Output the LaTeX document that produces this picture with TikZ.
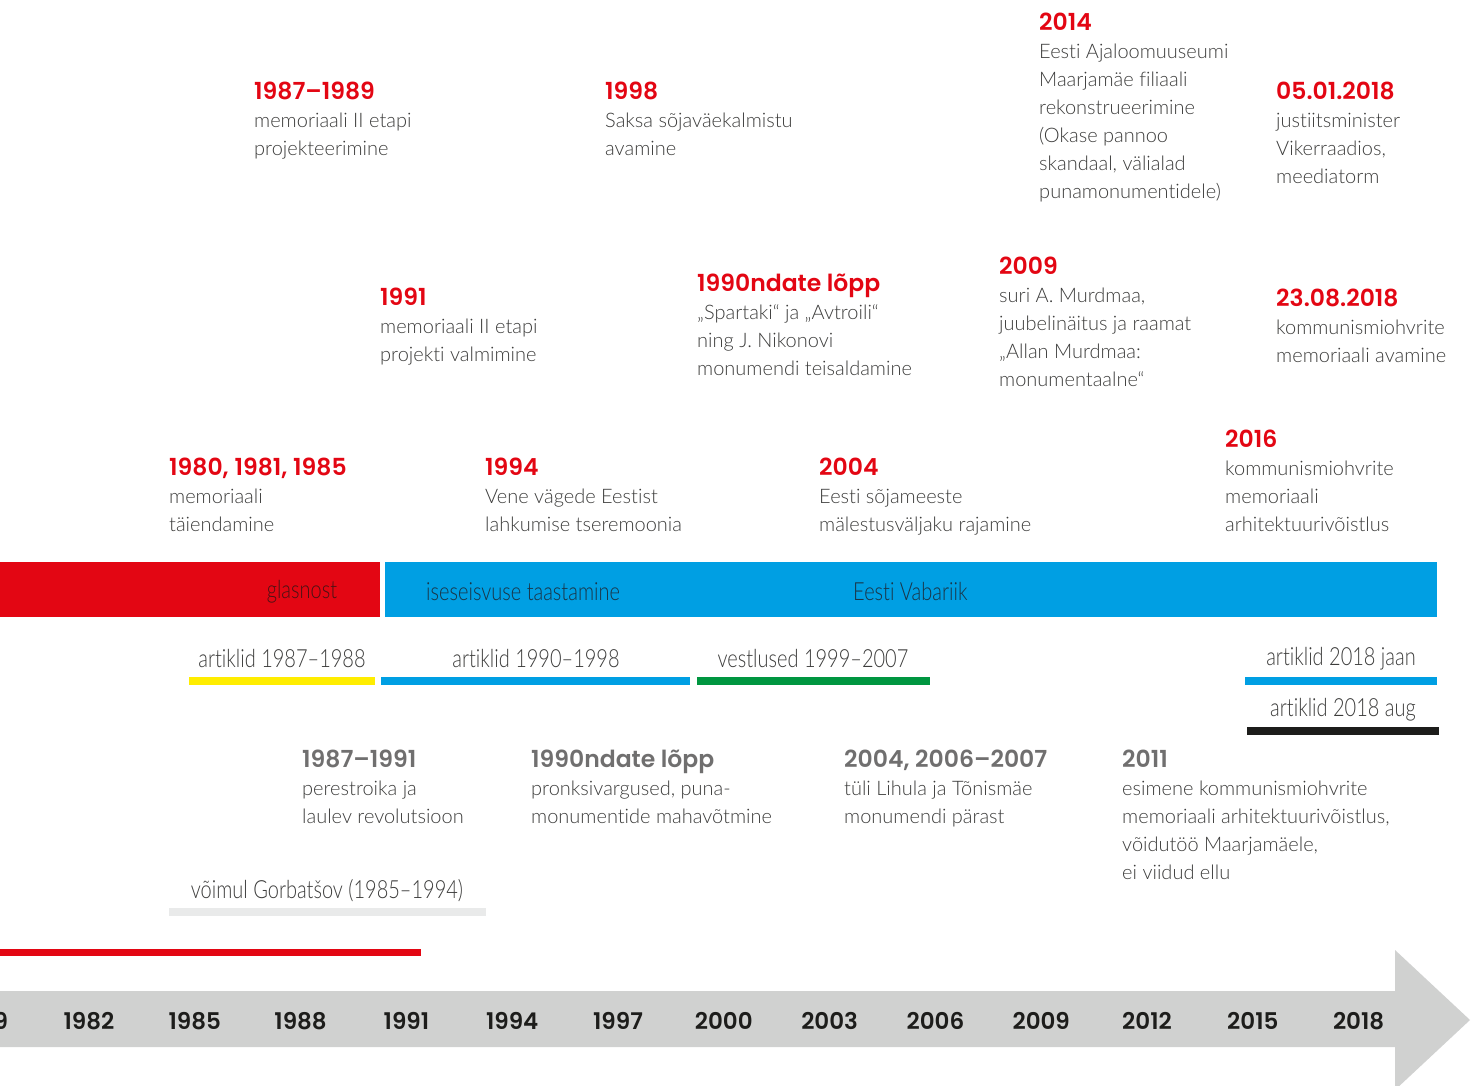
\documentclass[tikz,border=0pt]{standalone}
\usepackage{fontspec}
\setmainfont{Lato Light}[Ligatures=NoCommon]
\newfontfamily\headfont{Poppins SemiBold}[Ligatures=NoCommon]
\newfontfamily\condfont{Lato Light}[FakeStretch=0.8,Ligatures=NoCommon]
\usetikzlibrary{positioning}
\definecolor{cred}{HTML}{E30613}
\definecolor{cblue}{HTML}{009FE3}
\definecolor{cyellow}{HTML}{FFED00}
\definecolor{cgreen}{HTML}{009640}
\definecolor{cblack}{HTML}{1D1D1B}
\definecolor{ctext}{HTML}{3C3C3B}
\definecolor{cgrayhead}{HTML}{706F6F}
\definecolor{clight}{HTML}{E9EAEA}
\definecolor{cband}{HTML}{D0D1D0}
\definecolor{credtext}{HTML}{4A1214}
\definecolor{cbluetext}{HTML}{1A3446}
\tikzset{
  evt/.style={anchor=north west, inner sep=0pt, align=left, text=ctext,
    font=\fontsize{20}{28}\selectfont},
  bartxt/.style={inner sep=0pt, font=\condfont\fontsize{25}{28}\selectfont, text=ctext},
  axisyear/.style={inner sep=0pt, font=\headfont\fontsize{23}{26}\selectfont, text=cblack},
}
\newcommand{\rh}[1]{{\headfont\fontsize{23.5}{28}\selectfont\color{cred}#1}}
\newcommand{\gh}[1]{{\headfont\fontsize{23.5}{28}\selectfont\color{cgrayhead}#1}}
\begin{document}
\begin{tikzpicture}[x=1pt,y=-1pt]
\useasboundingbox (0,0) rectangle (1475,1086);
\clip (0,0) rectangle (1475,1086);
% top rows
\node[evt] (e8789) at (254,82) {\rh{1987–1989}\\memoriaali II etapi\\projekteerimine};
\node[evt] (e98) at (605,82) {\rh{1998}\\Saksa sõjaväekalmistu\\avamine};
\node[evt] (e14) at (1039,13) {\rh{2014}\\Eesti Ajaloomuuseumi\\Maarjamäe filiaali\\rekonstrueerimine\\(Okase pannoo\\skandaal, välialad\\punamonumentidele)};
\node[evt] (e0501) at (1276,82) {\rh{05.01.2018}\\justiitsminister\\Vikerraadios,\\meediatorm};
\node[evt] (e91) at (380,288) {\rh{1991}\\memoriaali II etapi\\projekti valmimine};
\node[evt] (e90s) at (697,274) {\rh{1990ndate lõpp}\\„Spartaki“ ja „Avtroili“\\ning J. Nikonovi\\monumendi teisaldamine};
\node[evt] (e09) at (999,257) {\rh{2009}\\suri A. Murdmaa,\\juubelinäitus ja raamat\\„Allan Murdmaa:\\monumentaalne“};
\node[evt] (e2308) at (1276,289) {\rh{23.08.2018}\\kommunismiohvrite\\memoriaali avamine};
\node[evt] (e80) at (169,458) {\rh{1980,\hspace{0.25em}1981,\hspace{0.25em}1985}\\memoriaali\\täiendamine};
\node[evt] (e94) at (485,458) {\rh{1994}\\Vene vägede Eestist\\lahkumise tseremoonia};
\node[evt] (e04) at (819,458) {\rh{2004}\\Eesti sõjameeste\\mälestusväljaku rajamine};
\node[evt] (e16) at (1225,430) {\rh{2016}\\kommunismiohvrite\\memoriaali\\arhitektuurivõistlus};
% main bars
\fill[cred] (0,562) rectangle (380,617);
\fill[cblue] (385,562) rectangle (1437,617);
\node[bartxt, text=credtext] (glas) at (302,592) {glasnost};
\node[bartxt, text=cbluetext, anchor=west] (isese) at (426,592) {iseseisvuse taastamine};
\node[bartxt, text=cbluetext, anchor=west] (vaba) at (853,592) {Eesti Vabariik};
% thin bars
\fill[cyellow] (189,677) rectangle (375,685);
\fill[cblue] (381,677) rectangle (690,685);
\fill[cgreen] (697,677) rectangle (930,685);
\fill[cblue] (1245,677) rectangle (1437,685);
\fill[cblack] (1247,727) rectangle (1439,735);
\node[bartxt] (a8788) at (282,659) {artiklid 1987–1988};
\node[bartxt] (a9098) at (536,659) {artiklid 1990–1998};
\node[bartxt] (v9907) at (813,659) {vestlused 1999–2007};
\node[bartxt] (ajaan) at (1341,659) {artiklid 2018 jaan};
\node[bartxt] (aaug) at (1343,710) {artiklid 2018 aug};
% lower events
\node[evt] (g8791) at (302,750) {\gh{1987–1991}\\perestroika ja\\laulev revolutsioon};
\node[evt] (g90s) at (531,750) {\gh{1990ndate lõpp}\\pronksivargused, puna-\\monumentide mahavõtmine};
\node[evt] (g04) at (844,750) {\gh{2004, 2006–2007}\\tüli Lihula ja Tõnismäe\\monumendi pärast};
\node[evt] (g11) at (1122,750) {\gh{2011}\\esimene kommunismiohvrite\\memoriaali arhitektuurivõistlus,\\võidutöö Maarjamäele,\\ei viidud ellu};
% Gorbachev
\fill[clight] (169,908) rectangle (486,916);
\node[bartxt] (gorb) at (327,891) {võimul Gorbatšov (1985–1994)};
\fill[cred] (0,949) rectangle (421,956);
% axis arrow
\fill[cband] (-30,991) -- (1395,991) -- (1395,950) -- (1470,1020) -- (1395,1090) -- (1395,1047) -- (-30,1047) -- cycle;
\foreach \yr [count=\i from -1] in {1979,1982,1985,1988,1991,1994,1997,2000,2003,2006,2009,2012,2015,2018}{
  \node[axisyear] (y\yr) at ({89+105.8*\i},1021) {\yr};
}
\end{tikzpicture}
\end{document}
